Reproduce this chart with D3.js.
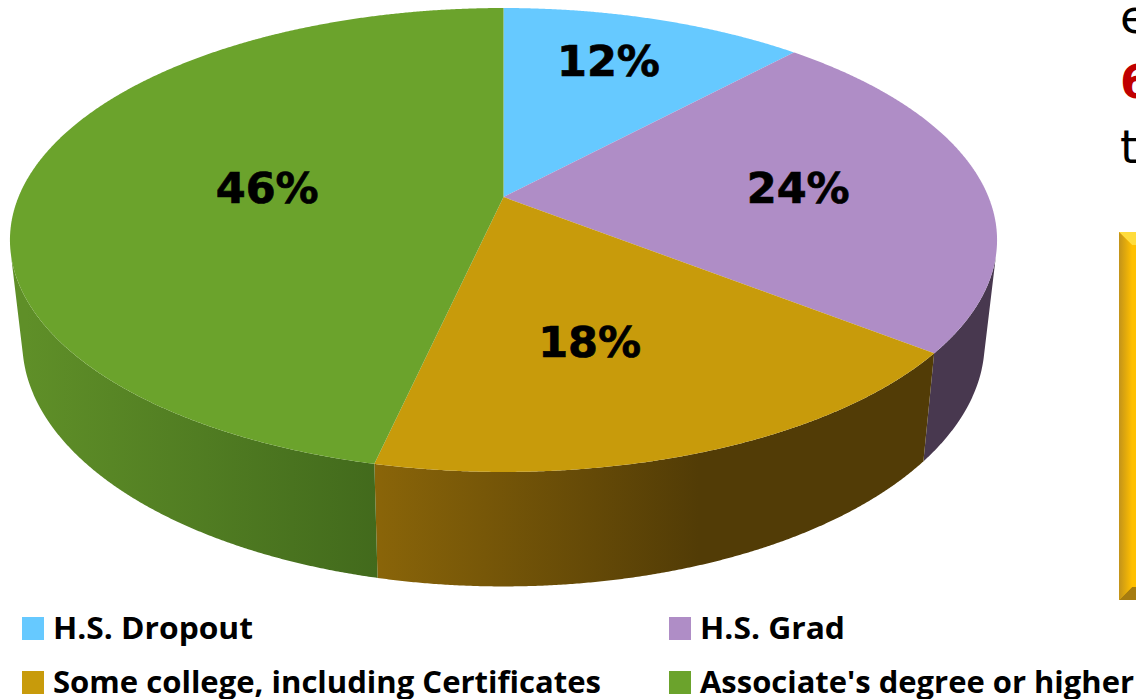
<!DOCTYPE html>
<html>
<head>
<meta charset="utf-8">
<script src="https://cdn.jsdelivr.net/npm/d3@7"></script>
<style>
  html, body { margin: 0; padding: 0; background: #fff; overflow: hidden; }
  svg { display: block; }
</style>
</head>
<body>
<div id="chart"></div>
<script>
const categories = ["H.S. Dropout", "H.S. Grad", "Some college, including Certificates", "Associate's degree or higher"]
// shares, labels show them rounded
const shares = [11.9, 23.7, 17.9, 46.5]
const labels = ["12%", "24%", "18%", "46%"]
const topColors = ["#66c9ff", "#af8dc6", "#c89b0b", "#6ba32c"]
const sideFrom = ["#3d7fa8", "#48384f", "#8a6509", "#5f8f28"]
const sideTo = ["#3d7fa8", "#48384f", "#523c06", "#426a1c"]
const cutOffText = ["e", "6", "t"]

const width = 1136
const height = 699

// perspective of the pie top, top edge 8, apex 197, front edge 472
const cx = 503.5
const radius = 485
const persp = -0.1853
const yGain = 187.5
const apexY = 197
// bottom ring of the wall
const wallShrink = 0.975
const wallYGain = 1.054
const wallYOff = 89

function project(angle, r = 1){
    const x = Math.sin(angle) * r
    const v = -Math.cos(angle) * r
    const w = 1 + persp * v
    return [cx + radius * x / w, (yGain * v + apexY) / w]
}
function projectBottom(angle){
    const [x, y] = project(angle)
    return [cx + (x - cx) * wallShrink, wallYOff + wallYGain * y]
}
function arcAngles(a0, a1){
    const n = Math.max(2, Math.ceil((a1 - a0) / 0.004))
    return d3.range(n + 1).map(i => a0 + (a1 - a0) * i / n)
}
// wall faces the viewer only between the two tangent points
function wallVisible(a){
    const t = project(a)
    const b = projectBottom(a)
    const n = project(a + 0.001)
    return (b[0] - t[0]) * (n[1] - t[1]) - (b[1] - t[1]) * (n[0] - t[0]) > 0
}

const svg = d3.select("#chart").append("svg")
    .attr("width", width)
    .attr("height", height)
    .attr("viewBox", [0, 0, width, height])

const defs = svg.append("defs")
const line = d3.line()
const slices = d3.pie().sort(null).value(d => d)(shares)

slices.forEach((s, i) => {
    const angles = arcAngles(s.startAngle, s.endAngle).filter(wallVisible)
    if (angles.length < 2) return
    const outline = angles.map(a => project(a)).concat(angles.slice().reverse().map(projectBottom))
    const xs = outline.map(d => d[0])
    let x1 = d3.min(xs), x2 = d3.max(xs)
    if (i === 2) x2 = x1 + (x2 - x1) * 0.58   // gold is flat dark after this
    if (i === 3) x1 += 15
    const grad = defs.append("linearGradient")
        .attr("id", `wall-${i}`)
        .attr("gradientUnits", "userSpaceOnUse")
        .attr("x1", x1).attr("x2", x2).attr("y1", 0).attr("y2", 0)
    grad.append("stop").attr("offset", 0).attr("stop-color", sideFrom[i])
    grad.append("stop").attr("offset", 1).attr("stop-color", sideTo[i])
    svg.append("path")
        .attr("d", line(outline) + "Z")
        .attr("fill", `url(#wall-${i})`)
})

slices.forEach((s, i) => {
    const pts = [project(0, 0)].concat(arcAngles(s.startAngle, s.endAngle).map(a => project(a)))
    svg.append("path")
        .attr("d", line(pts) + "Z")
        .attr("fill", topColors[i])
})

// label spots inside each slice
const labelRadius = [0.66, 0.615, 0.484, 0.495]
const labelShift = [-13, 1, 33, 3]
slices.forEach((s, i) => {
    const [x, y] = project((s.startAngle + s.endAngle) / 2, labelRadius[i])
    svg.append("text")
        .text(labels[i])
        .attr("x", x)
        .attr("y", y + labelShift[i])
        .attr("dy", "0.36em")
        .attr("text-anchor", "middle")
        .attr("font-family", "DejaVu Sans")
        .attr("font-weight", "bold")
        .attr("font-size", 43)
        .attr("fill", "#000")
        .attr("stroke", "#000")
        .attr("stroke-width", 0.7)
})

// legend, two columns two rows
const legendX = d3.scalePoint().domain([0, 1]).range([22, 669])
const legendY = d3.scalePoint().domain([0, 1]).range([628, 682])
const textWidths = [200, 145, 548, 434]
categories.forEach((c, i) => {
    const col = i % 2
    const row = Math.floor(i / 2)
    svg.append("rect")
        .attr("x", legendX(col))
        .attr("y", legendY(row) - 11)
        .attr("width", 22)
        .attr("height", 23)
        .attr("fill", topColors[i])
    svg.append("text")
        .text(c)
        .attr("x", legendX(col) + 31)
        .attr("y", legendY(row) + 11)
        .attr("font-family", "Open Sans")
        .attr("font-weight", "bold")
        .attr("font-size", 31)
        .attr("textLength", textWidths[i])
        .attr("lengthAdjust", "spacingAndGlyphs")
        .attr("fill", "#000")
})

// the slide text that runs off the right side
const cutOffY = [33, 98, 163]
const cutOffColor = ["#000", "#c00000", "#000"]
const cutOffWeight = ["normal", "bold", "normal"]
cutOffText.forEach((t, i) => {
    svg.append("text")
        .text(t)
        .attr("x", 1120)
        .attr("y", cutOffY[i])
        .attr("font-family", "DejaVu Sans")
        .attr("font-weight", cutOffWeight[i])
        .attr("font-size", 46)
        .attr("fill", cutOffColor[i])
})

// yellow bevelled box cut by the edge
const box = {x0: 1119, x1: 1160, y0: 232, y1: 600, bevel: 13}
const leftGrad = defs.append("linearGradient").attr("id", "bevel-left")
leftGrad.append("stop").attr("offset", 0).attr("stop-color", "#c2931a")
leftGrad.append("stop").attr("offset", 1).attr("stop-color", "#ffbf00")
svg.append("rect")
    .attr("x", box.x0).attr("y", box.y0)
    .attr("width", box.x1 - box.x0).attr("height", box.y1 - box.y0)
    .attr("fill", "#ffc000")
svg.append("path")
    .attr("d", line([[box.x0, box.y0], [box.x1, box.y0], [box.x1, box.y0 + box.bevel], [box.x0 + box.bevel, box.y0 + box.bevel]]) + "Z")
    .attr("fill", "#ffdc3c")
svg.append("path")
    .attr("d", line([[box.x0, box.y1], [box.x1, box.y1], [box.x1, box.y1 - box.bevel], [box.x0 + box.bevel, box.y1 - box.bevel]]) + "Z")
    .attr("fill", "#a67c10")
svg.append("path")
    .attr("d", line([[box.x0, box.y0], [box.x0 + box.bevel, box.y0 + box.bevel], [box.x0 + box.bevel, box.y1 - box.bevel], [box.x0, box.y1]]) + "Z")
    .attr("fill", "url(#bevel-left)")
</script>
</body>
</html>
